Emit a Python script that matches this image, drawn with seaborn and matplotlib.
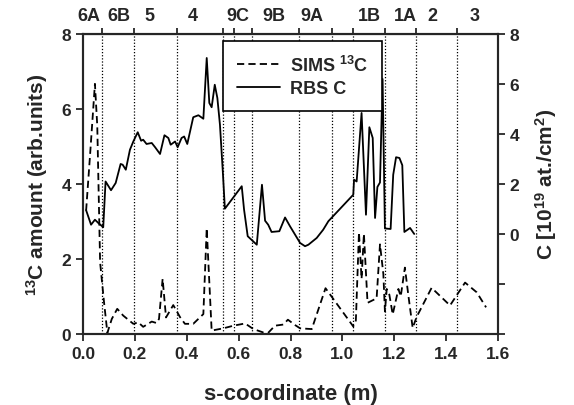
import numpy as np
import pandas as pd
import matplotlib
matplotlib.use("Agg")
import matplotlib.pyplot as plt
import matplotlib.transforms as mtransforms
import seaborn as sns

# SIMS 13C (left axis)
sims_s = [0.012, 0.027, 0.046, 0.055, 0.066, 0.081, 0.094, 0.111, 0.132, 0.155,
          0.194, 0.213, 0.232, 0.265, 0.284, 0.293, 0.307, 0.320, 0.348, 0.374,
          0.393, 0.425, 0.464, 0.477, 0.496, 0.541, 0.580, 0.625, 0.657, 0.695,
          0.714, 0.740, 0.772, 0.790, 0.817, 0.837, 0.882, 0.935, 1.042, 1.052,
          1.064, 1.074, 1.083, 1.097, 1.132, 1.145, 1.158, 1.164, 1.171, 1.181,
          1.194, 1.216, 1.225, 1.241, 1.254, 1.271, 1.286, 1.344, 1.415, 1.473,
          1.518, 1.554]
sims_c = [3.29, 4.75, 6.67, 5.55, 1.91, 0.85, 0.03, 0.40, 0.67, 0.49,
          0.27, 0.31, 0.19, 0.33, 0.29, 0.40, 1.47, 0.44, 0.77, 0.45,
          0.27, 0.27, 0.53, 2.82, 0.09, 0.15, 0.22, 0.28, 0.13, 0.04,
          0.03, 0.22, 0.25, 0.38, 0.24, 0.15, 0.13, 1.22, 0.20, 0.36,
          2.71, 1.47, 2.67, 0.83, 0.95, 2.39, 1.60, 0.60, 1.20, 1.05,
          0.52, 1.20, 1.00, 1.77, 1.05, 0.16, 0.45, 1.23, 0.76, 1.37,
          1.11, 0.71]

# RBS C (right axis)
rbs_s = [0.012, 0.031, 0.046, 0.059, 0.078, 0.087, 0.108, 0.126, 0.145, 0.153,
         0.165, 0.181, 0.194, 0.211, 0.224, 0.232, 0.245, 0.265, 0.278, 0.297,
         0.314, 0.329, 0.338, 0.355, 0.365, 0.380, 0.390, 0.402, 0.425, 0.445,
         0.464, 0.477, 0.487, 0.496, 0.508, 0.518, 0.528, 0.539, 0.547, 0.612,
         0.621, 0.635, 0.670, 0.690, 0.702, 0.714, 0.727, 0.757, 0.779, 0.798,
         0.837, 0.856, 0.869, 0.901, 0.926, 0.946, 1.042, 1.045, 1.055, 1.074,
         1.091, 1.104, 1.117, 1.126, 1.135, 1.145, 1.155, 1.164, 1.186, 1.196,
         1.207, 1.220, 1.231, 1.239, 1.261, 1.277]
rbs_c = [0.95, 0.37, 0.57, 0.44, 0.27, 2.10, 1.75, 2.04, 2.80, 2.77,
         2.57, 3.37, 3.70, 4.07, 3.73, 3.77, 3.60, 3.64, 3.47, 3.20,
         3.95, 3.84, 3.57, 3.70, 3.47, 3.84, 3.90, 3.60, 4.67, 4.75,
         4.61, 7.04, 5.24, 5.07, 5.97, 5.44, 4.37, 2.50, 1.01, 1.91,
         0.97, -0.09, -0.43, 1.97, 0.53, 0.37, 0.08, 0.11, 0.66, 0.31,
         -0.36, -0.49, -0.43, -0.16, 0.17, 0.51, 1.57, 2.17, 2.10, 4.84,
         0.77, 4.27, 3.84, 0.64, 1.88, 2.06, 6.20, 0.22, 0.20, 2.37,
         3.07, 3.04, 2.75, 0.08, 0.24, 0.00]

# region boundaries and names along the top
bounds = [0.073, 0.197, 0.362, 0.540, 0.582, 0.652, 0.833, 0.960, 1.041, 1.164, 1.284, 1.442]
region_names = ["6A", "6B", "5", "4", "9C", "9B", "9A", "1B", "1A", "2", "3"]
region_pos = [0.024, 0.139, 0.258, 0.423, 0.599, 0.734, 0.882, 1.104, 1.241, 1.348, 1.508]

sims = pd.DataFrame({"s": sims_s, "c": sims_c})
rbs = pd.DataFrame({"s": rbs_s, "c": rbs_c})

sns.set_style("ticks")
plt.rcParams["font.family"] = ["Liberation Sans", "DejaVu Sans"]
plt.rcParams["font.weight"] = "bold"
plt.rcParams["axes.labelweight"] = "bold"
plt.rcParams["mathtext.fontset"] = "custom"
plt.rcParams["mathtext.rm"] = "Liberation Sans:bold"
plt.rcParams["mathtext.it"] = "Liberation Sans:bold"
plt.rcParams["mathtext.bf"] = "Liberation Sans:bold"

dash = (4, 2.3)

fig, ax = plt.subplots(figsize=(5.74, 4.06), dpi=100)
fig.subplots_adjust(left=0.1446, right=0.8676, bottom=0.175, top=0.9138)
ax2 = ax.twinx()

for b in bounds:
    ax.axvline(b, color="black", ls=(0, (1, 1.5)), lw=0.9, zorder=1)

sns.lineplot(data=sims, x="s", y="c", ax=ax, sort=False, estimator=None,
             color="black", lw=1.3, label="_nolegend_")
ax.lines[-1].set_dashes(dash)
sns.lineplot(data=rbs, x="s", y="c", ax=ax2, sort=False, estimator=None,
             color="black", lw=1.3, label="_nolegend_")

ax.set_xlim(0, 1.6)
ax.set_ylim(0, 8)
ax.set_xticks(np.arange(0, 1.61, 0.2))
ax.set_xticklabels([f"{v:.1f}" for v in np.arange(0, 1.61, 0.2)])
ax.set_yticks([0, 2, 4, 6, 8])
ax2.set_ylim(-4, 8)
ax2.set_yticks([-4, -2, 0, 2, 4, 6, 8])
ax2.set_yticklabels(["", "", "0", "2", "4", "6", "8"])

ax.set_xlabel("s-coordinate (m)", fontsize=16, fontweight="bold", labelpad=16)
ax.set_ylabel("$^{13}$C amount (arb.units)", fontsize=15, fontweight="bold", labelpad=8)
ax2.set_ylabel("C [10$^{19}$ at./cm$^{2}$)", fontsize=15, fontweight="bold",
               rotation=90, labelpad=10)

for a in (ax, ax2):
    a.tick_params(direction="out", length=5, width=1.3, labelsize=12.5)
    for sp in a.spines.values():
        sp.set_linewidth(1.5)
        sp.set_visible(True)
for lab in ax.get_xticklabels() + ax.get_yticklabels() + ax2.get_yticklabels():
    lab.set_fontweight("bold")

top = ax.secondary_xaxis("top")
top.set_xticks(bounds)
top.set_xticklabels([])
top.tick_params(direction="out", length=4, width=1.3)

trans = mtransforms.blended_transform_factory(ax.transData, ax.transAxes)
for name, pos in zip(region_names, region_pos):
    ax.text(pos, 1.063, name, transform=trans, ha="center", va="center",
            fontsize=13, fontweight="bold")

handles = [plt.Line2D([], [], color="black", lw=1.3, dashes=dash),
           plt.Line2D([], [], color="black", lw=1.3)]
leg = ax2.legend(handles, ["SIMS $^{13}$C", "RBS C"], loc="upper left",
                 bbox_to_anchor=(223 / 574, 1 - 42 / 406), bbox_transform=fig.transFigure,
                 borderaxespad=0, fancybox=False, framealpha=1, edgecolor="black",
                 fontsize=13, handlelength=2.4, handletextpad=0.55,
                 borderpad=0.75, labelspacing=0.3)
leg.get_frame().set_linewidth(1.2)

plt.savefig("out.png", dpi=100)
